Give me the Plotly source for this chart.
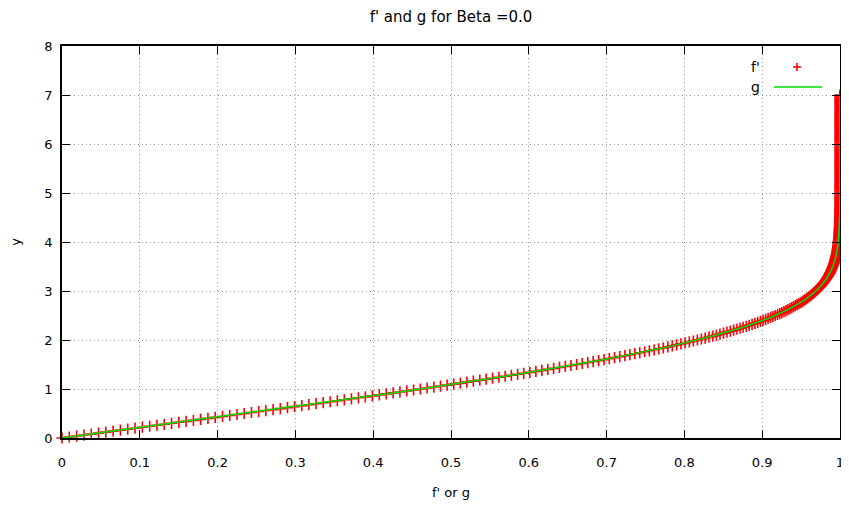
import plotly.graph_objects as go

# similarity variable (y axis)
ETA = [
    0.00, 0.02, 0.04, 0.06, 0.08, 0.10, 0.12, 0.14, 0.16, 0.18,
    0.20, 0.22, 0.24, 0.26, 0.28, 0.30, 0.32, 0.34, 0.36, 0.38,
    0.40, 0.42, 0.44, 0.46, 0.48, 0.50, 0.52, 0.54, 0.56, 0.58,
    0.60, 0.62, 0.64, 0.66, 0.68, 0.70, 0.72, 0.74, 0.76, 0.78,
    0.80, 0.82, 0.84, 0.86, 0.88, 0.90, 0.92, 0.94, 0.96, 0.98,
    1.00, 1.02, 1.04, 1.06, 1.08, 1.10, 1.12, 1.14, 1.16, 1.18,
    1.20, 1.22, 1.24, 1.26, 1.28, 1.30, 1.32, 1.34, 1.36, 1.38,
    1.40, 1.42, 1.44, 1.46, 1.48, 1.50, 1.52, 1.54, 1.56, 1.58,
    1.60, 1.62, 1.64, 1.66, 1.68, 1.70, 1.72, 1.74, 1.76, 1.78,
    1.80, 1.82, 1.84, 1.86, 1.88, 1.90, 1.92, 1.94, 1.96, 1.98,
    2.00, 2.02, 2.04, 2.06, 2.08, 2.10, 2.12, 2.14, 2.16, 2.18,
    2.20, 2.22, 2.24, 2.26, 2.28, 2.30, 2.32, 2.34, 2.36, 2.38,
    2.40, 2.42, 2.44, 2.46, 2.48, 2.50, 2.52, 2.54, 2.56, 2.58,
    2.60, 2.62, 2.64, 2.66, 2.68, 2.70, 2.72, 2.74, 2.76, 2.78,
    2.80, 2.82, 2.84, 2.86, 2.88, 2.90, 2.92, 2.94, 2.96, 2.98,
    3.00, 3.02, 3.04, 3.06, 3.08, 3.10, 3.12, 3.14, 3.16, 3.18,
    3.20, 3.22, 3.24, 3.26, 3.28, 3.30, 3.32, 3.34, 3.36, 3.38,
    3.40, 3.42, 3.44, 3.46, 3.48, 3.50, 3.52, 3.54, 3.56, 3.58,
    3.60, 3.62, 3.64, 3.66, 3.68, 3.70, 3.72, 3.74, 3.76, 3.78,
    3.80, 3.82, 3.84, 3.86, 3.88, 3.90, 3.92, 3.94, 3.96, 3.98,
    4.00, 4.02, 4.04, 4.06, 4.08, 4.10, 4.12, 4.14, 4.16, 4.18,
    4.20, 4.22, 4.24, 4.26, 4.28, 4.30, 4.32, 4.34, 4.36, 4.38,
    4.40, 4.42, 4.44, 4.46, 4.48, 4.50, 4.52, 4.54, 4.56, 4.58,
    4.60, 4.62, 4.64, 4.66, 4.68, 4.70, 4.72, 4.74, 4.76, 4.78,
    4.80, 4.82, 4.84, 4.86, 4.88, 4.90, 4.92, 4.94, 4.96, 4.98,
    5.00, 5.02, 5.04, 5.06, 5.08, 5.10, 5.12, 5.14, 5.16, 5.18,
    5.20, 5.22, 5.24, 5.26, 5.28, 5.30, 5.32, 5.34, 5.36, 5.38,
    5.40, 5.42, 5.44, 5.46, 5.48, 5.50, 5.52, 5.54, 5.56, 5.58,
    5.60, 5.62, 5.64, 5.66, 5.68, 5.70, 5.72, 5.74, 5.76, 5.78,
    5.80, 5.82, 5.84, 5.86, 5.88, 5.90, 5.92, 5.94, 5.96, 5.98,
    6.00, 6.02, 6.04, 6.06, 6.08, 6.10, 6.12, 6.14, 6.16, 6.18,
    6.20, 6.22, 6.24, 6.26, 6.28, 6.30, 6.32, 6.34, 6.36, 6.38,
    6.40, 6.42, 6.44, 6.46, 6.48, 6.50, 6.52, 6.54, 6.56, 6.58,
    6.60, 6.62, 6.64, 6.66, 6.68, 6.70, 6.72, 6.74, 6.76, 6.78,
    6.80, 6.82, 6.84, 6.86, 6.88, 6.90, 6.92, 6.94, 6.96, 6.98,
    7.00,
]

# f' values (red '+' markers)
F_PRIME = [
    0.0000, 0.0094, 0.0188, 0.0282, 0.0376, 0.0470, 0.0563, 0.0657, 0.0751, 0.0845,
    0.0939, 0.1033, 0.1127, 0.1220, 0.1314, 0.1408, 0.1502, 0.1595, 0.1689, 0.1782,
    0.1876, 0.1969, 0.2063, 0.2156, 0.2249, 0.2342, 0.2435, 0.2528, 0.2620, 0.2713,
    0.2806, 0.2898, 0.2990, 0.3082, 0.3173, 0.3265, 0.3357, 0.3448, 0.3539, 0.3629,
    0.3720, 0.3810, 0.3899, 0.3989, 0.4078, 0.4167, 0.4256, 0.4344, 0.4432, 0.4519,
    0.4606, 0.4693, 0.4779, 0.4865, 0.4950, 0.5035, 0.5120, 0.5204, 0.5287, 0.5370,
    0.5452, 0.5534, 0.5616, 0.5696, 0.5776, 0.5856, 0.5935, 0.6013, 0.6091, 0.6168,
    0.6244, 0.6319, 0.6394, 0.6469, 0.6542, 0.6615, 0.6687, 0.6758, 0.6828, 0.6898,
    0.6967, 0.7035, 0.7102, 0.7169, 0.7235, 0.7299, 0.7363, 0.7426, 0.7489, 0.7550,
    0.7611, 0.7670, 0.7729, 0.7787, 0.7844, 0.7900, 0.7955, 0.8009, 0.8063, 0.8115,
    0.8167, 0.8218, 0.8267, 0.8316, 0.8364, 0.8411, 0.8457, 0.8503, 0.8547, 0.8591,
    0.8633, 0.8675, 0.8716, 0.8755, 0.8795, 0.8833, 0.8870, 0.8906, 0.8942, 0.8977,
    0.9011, 0.9044, 0.9076, 0.9108, 0.9138, 0.9168, 0.9197, 0.9226, 0.9253, 0.9280,
    0.9306, 0.9331, 0.9356, 0.9380, 0.9403, 0.9426, 0.9448, 0.9469, 0.9490, 0.9510,
    0.9529, 0.9547, 0.9566, 0.9583, 0.9600, 0.9617, 0.9632, 0.9648, 0.9663, 0.9677,
    0.9691, 0.9704, 0.9717, 0.9729, 0.9741, 0.9752, 0.9763, 0.9774, 0.9784, 0.9794,
    0.9804, 0.9813, 0.9822, 0.9830, 0.9838, 0.9846, 0.9853, 0.9860, 0.9867, 0.9874,
    0.9880, 0.9886, 0.9891, 0.9897, 0.9902, 0.9907, 0.9912, 0.9917, 0.9921, 0.9925,
    0.9929, 0.9933, 0.9936, 0.9940, 0.9943, 0.9946, 0.9949, 0.9952, 0.9954, 0.9957,
    0.9960, 0.9962, 0.9964, 0.9966, 0.9968, 0.9970, 0.9971, 0.9973, 0.9975, 0.9976,
    0.9978, 0.9979, 0.9980, 0.9981, 0.9983, 0.9984, 0.9985, 0.9986, 0.9986, 0.9987,
    0.9988, 0.9989, 0.9990, 0.9990, 0.9991, 0.9992, 0.9992, 0.9993, 0.9993, 0.9994,
    0.9994, 0.9994, 0.9995, 0.9995, 0.9995, 0.9996, 0.9996, 0.9996, 0.9997, 0.9997,
    0.9997, 0.9997, 0.9998, 0.9998, 0.9998, 0.9998, 0.9998, 0.9998, 0.9999, 0.9999,
    0.9999, 0.9999, 0.9999, 0.9999, 0.9999, 0.9999, 0.9999, 0.9999, 0.9999, 0.9999,
    0.9999, 0.9999, 0.9999, 0.9999, 1.0000, 1.0000, 1.0000, 1.0000, 1.0000, 1.0000,
    1.0000, 1.0000, 1.0000, 1.0000, 1.0000, 1.0000, 1.0000, 1.0000, 1.0000, 1.0000,
    1.0000, 1.0000, 1.0000, 1.0000, 1.0000, 1.0000, 1.0000, 1.0000, 1.0000, 1.0000,
    1.0000, 1.0000, 1.0000, 1.0000, 1.0000, 1.0000, 1.0000, 1.0000, 1.0000, 1.0000,
    1.0000, 1.0000, 1.0000, 1.0000, 1.0000, 1.0000, 1.0000, 1.0000, 1.0000, 1.0000,
    1.0000, 1.0000, 1.0000, 1.0000, 1.0000, 1.0000, 1.0000, 1.0000, 1.0000, 1.0000,
    1.0000, 1.0000, 1.0000, 1.0000, 1.0000, 1.0000, 1.0000, 1.0000, 1.0000, 1.0000,
    1.0000, 1.0000, 1.0000, 1.0000, 1.0000, 1.0000, 1.0000, 1.0000, 1.0000, 1.0000,
    1.0000, 1.0000, 1.0000, 1.0000, 1.0000, 1.0000, 1.0000, 1.0000, 1.0000, 1.0000,
    1.0000, 1.0000, 1.0000, 1.0000, 1.0000, 1.0000, 1.0000, 1.0000, 1.0000, 1.0000,
    1.0000,
]

# g values (green line) - identical to f' for Beta = 0
G_VALUES = list(F_PRIME)

X_TICKS = [0, 0.1, 0.2, 0.3, 0.4, 0.5, 0.6, 0.7, 0.8, 0.9, 1]
X_TICK_TEXT = ["0", "0.1", "0.2", "0.3", "0.4", "0.5", "0.6", "0.7", "0.8", "0.9", "1"]
Y_TICKS = [0, 1, 2, 3, 4, 5, 6, 7, 8]

FONT = "DejaVu Sans"
RED = "#ff0000"
GREEN = "#00e000"

# the page body adds an 8px offset, so the figure is 8px smaller than the window
FIG_W, FIG_H = 841, 500

fig = go.Figure()
fig.add_trace(go.Scatter(
    x=F_PRIME, y=ETA, mode="markers", name="f'",
    marker=dict(symbol="cross-thin", size=8, color=RED, line=dict(color=RED, width=1.6)),
    cliponaxis=False, showlegend=False,
))
fig.add_trace(go.Scatter(
    x=G_VALUES, y=ETA, mode="lines", name="g",
    line=dict(color=GREEN, width=1.5),
    cliponaxis=False, showlegend=False,
))

axis_common = dict(
    showline=True, linecolor="black", linewidth=1.5, mirror="ticks",
    ticks="inside", ticklen=8, tickwidth=1.2, tickcolor="black",
    showgrid=True, gridcolor="#9a9a9a", gridwidth=1, griddash="1px,3px",
    zeroline=False, automargin=False, ticklabeloverflow="allow",
    tickfont=dict(family=FONT, size=13, color="black"),
)

fig.update_xaxes(range=[0, 1], tickvals=X_TICKS, ticktext=X_TICK_TEXT,
                 ticklabelstandoff=12,
                 title=dict(text="f' or g", font=dict(family=FONT, size=13, color="black"), standoff=19),
                 **axis_common)
fig.update_yaxes(range=[0, 8], tickvals=Y_TICKS,
                 ticklabelstandoff=5,
                 title=dict(text="y", font=dict(family=FONT, size=13, color="black"), standoff=22),
                 **axis_common)

# gnuplot-style key: label on the left, sample on the right
fig.add_annotation(x=0.9, y=0.9464, xref="paper", yref="paper", text="f'",
                   showarrow=False, xanchor="right", yanchor="middle",
                   font=dict(family=FONT, size=14, color="black"))
fig.add_annotation(x=0.9, y=0.8954, xref="paper", yref="paper", text="g",
                   showarrow=False, xanchor="right", yanchor="middle",
                   font=dict(family=FONT, size=14, color="black"))
fig.add_shape(type="line", xref="paper", yref="paper",
              x0=0.9396, x1=0.9498, y0=0.9464, y1=0.9464,
              line=dict(color=RED, width=1.6))
fig.add_shape(type="line", xref="paper", yref="paper",
              x0=0.9447, x1=0.9447, y0=0.9362, y1=0.9566,
              line=dict(color=RED, width=1.6))
fig.add_shape(type="line", xref="paper", yref="paper",
              x0=0.915, x1=0.977, y0=0.8954, y1=0.8954,
              line=dict(color=GREEN, width=1.5))

fig.update_layout(
    width=FIG_W, height=FIG_H,
    margin=dict(l=54, r=9, t=38, b=70),
    paper_bgcolor="white", plot_bgcolor="white",
    title=dict(text="f' and g for Beta =0.0", x=0.5, xref="paper",
               y=1 - 9 / FIG_H, yref="container", yanchor="middle",
               font=dict(family=FONT, size=15, color="black")),
    showlegend=False,
)

fig.write_html("out.html")
